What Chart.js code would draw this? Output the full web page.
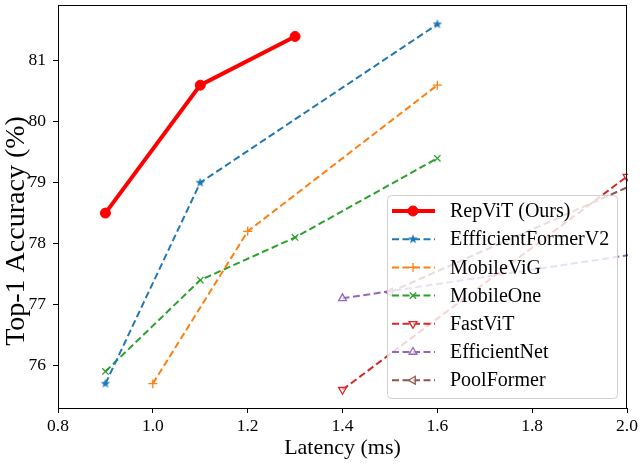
<!DOCTYPE html>
<html lang="en">
<head>
<meta charset="UTF-8">
<title>Latency vs Top-1 Accuracy</title>
<style>
    html, body { margin: 0; padding: 0; background: #fff; }
    #wrap { width: 640px; height: 464px; }
</style>
</head>
<body>
<div id="wrap"><canvas id="chart"></canvas></div>

<script src="https://cdn.jsdelivr.net/npm/chart.js@4.4.0/dist/chart.umd.min.js"></script>
<script>
// data (latency in ms, top-1 accuracy in %)
const repvitX = [0.9, 1.1, 1.3];
const repvitY = [78.5, 80.6, 81.4];
const effFormerX = [0.9, 1.1, 1.6];
const effFormerY = [75.7, 79.0, 81.6];
const mobileVigX = [1.0, 1.2, 1.6];
const mobileVigY = [75.7, 78.2, 80.6];
const mobileOneX = [0.9, 1.1, 1.3, 1.6];
const mobileOneY = [75.9, 77.4, 78.1, 79.4];
const fastVitX = [1.4, 2.0];
const fastVitY = [75.6, 79.1];
const effNetX = [1.4, 3.1];
const effNetY = [77.1, 79.1];
const poolFormerX = [1.5, 2.4];
const poolFormerY = [77.2, 80.3];

const xTicks = [0.8, 1.0, 1.2, 1.4, 1.6, 1.8, 2.0];
const yTicks = [76, 77, 78, 79, 80, 81];

const FONT = "'Liberation Serif', 'DejaVu Serif', serif";

function pts(xs, ys) {
    return xs.map((x, i) => ({ x: x, y: ys[i] }));
}

// filled five point star, like matplotlib's '*' marker
function starMarker(color, r) {
    const s = Math.ceil(r * 2 + 2);
    const c = document.createElement('canvas');
    c.width = s;
    c.height = s;
    const g = c.getContext('2d');
    g.fillStyle = color;
    g.beginPath();
    for (let i = 0; i < 10; i++) {
        const rad = i % 2 === 0 ? r : r * 0.42;
        const a = -Math.PI / 2 + i * Math.PI / 5;
        const px = s / 2 + rad * Math.cos(a);
        const py = s / 2 + rad * Math.sin(a);
        if (i === 0) g.moveTo(px, py); else g.lineTo(px, py);
    }
    g.closePath();
    g.fill();
    return c;
}

function dashed(label, xs, ys, color, style, rot, hollow) {
    return {
        label: label,
        data: pts(xs, ys),
        borderColor: color,
        backgroundColor: hollow ? '#fff' : color,
        borderWidth: 2,
        borderDash: [7, 3.5],
        pointStyle: style,
        pointRotation: rot || 0,
        pointRadius: 4.5,
        pointBorderWidth: 1.3,
        pointBorderColor: color,
        pointBackgroundColor: hollow ? 'rgba(255,255,255,0.6)' : color,
        tension: 0,
        clip: 1
    };
}

const datasets = [
    {
        label: 'RepViT (Ours)',
        data: pts(repvitX, repvitY),
        borderColor: '#ff0000',
        backgroundColor: '#ff0000',
        borderWidth: 4,
        pointStyle: 'circle',
        pointRadius: 5,
        pointBorderWidth: 1,
        pointBorderColor: '#ff0000',
        pointBackgroundColor: '#ff0000',
        tension: 0,
        clip: 1
    },
    dashed('EffficientFormerV2', effFormerX, effFormerY, '#1f77b4', starMarker('#1f77b4', 5), 0, false),
    dashed('MobileViG', mobileVigX, mobileVigY, '#ff7f0e', 'cross', 0, false),
    dashed('MobileOne', mobileOneX, mobileOneY, '#2ca02c', 'crossRot', 0, false),
    dashed('FastViT', fastVitX, fastVitY, '#d62728', 'triangle', 180, true),
    dashed('EfficientNet', effNetX, effNetY, '#9467bd', 'triangle', 0, true),
    dashed('PoolFormer', poolFormerX, poolFormerY, '#8c564b', 'triangle', 270, true)
];

// box around the plot, y label and a matplotlib-like legend in the lower right
const framePlugin = {
    id: 'frame',
    afterDraw(chart) {
        const ctx = chart.ctx;
        const a = chart.chartArea;
        ctx.save();
        ctx.strokeStyle = '#000';
        ctx.lineWidth = 1;
        ctx.strokeRect(a.left + 0.5, a.top - 0.5, a.right - a.left - 1, a.bottom - a.top + 1);

        // y axis label
        ctx.save();
        ctx.translate(17, 231);
        ctx.rotate(-Math.PI / 2);
        ctx.font = '28px ' + FONT;
        ctx.fillStyle = '#000';
        ctx.textAlign = 'center';
        ctx.textBaseline = 'middle';
        ctx.fillText('Top-1 Accuracy (%)', 0, 0);
        ctx.restore();

        // legend
        const w = 230, h = 203;
        const bx = a.right - 10 - w, by = a.bottom - 10 - h;
        ctx.fillStyle = 'rgba(255,255,255,0.8)';
        ctx.strokeStyle = '#d0d0d0';
        ctx.beginPath();
        ctx.roundRect(bx + 0.5, by + 0.5, w, h, 4);
        ctx.fill();
        ctx.stroke();

        ctx.font = '20px ' + FONT;
        ctx.textBaseline = 'middle';
        chart.data.datasets.forEach((ds, i) => {
            const y = by + 16 + i * 28.2;
            ctx.strokeStyle = ds.borderColor;
            ctx.lineWidth = ds.borderWidth;
            ctx.setLineDash(ds.borderDash || []);
            ctx.beginPath();
            ctx.moveTo(bx + 5, y);
            ctx.lineTo(bx + 48, y);
            ctx.stroke();
            ctx.setLineDash([]);
            ctx.fillStyle = ds.pointBackgroundColor;
            ctx.strokeStyle = ds.pointBorderColor;
            ctx.lineWidth = ds.pointBorderWidth;
            Chart.helpers.drawPoint(ctx, {
                pointStyle: ds.pointStyle,
                radius: ds.pointRadius,
                rotation: ds.pointRotation || 0,
                borderWidth: ds.pointBorderWidth
            }, bx + 26, y);
            ctx.fillStyle = '#000';
            ctx.fillText(ds.label, bx + 63, y + 1);
        });
        ctx.restore();
    }
};

new Chart(document.getElementById('chart'), {
    type: 'line',
    data: { datasets: datasets },
    options: {
        responsive: true,
        maintainAspectRatio: false,
        animation: false,
        layout: { padding: { top: 2, right: 13, left: 0, bottom: 0 } },
        plugins: {
            legend: { display: false },
            tooltip: { enabled: false }
        },
        scales: {
            x: {
                type: 'linear',
                min: 0.8,
                max: 2.0,
                afterBuildTicks: s => { s.ticks = xTicks.map(v => ({ value: v })); },
                afterFit: s => { s.height = 56; s.paddingLeft = 0; s.paddingRight = 0; },
                ticks: {
                    color: '#000',
                    padding: 3,
                    font: { family: FONT, size: 17.5 },
                    callback: v => Number(v).toFixed(1)
                },
                grid: { drawOnChartArea: false, tickLength: 5, tickColor: '#000' },
                border: { color: '#000', width: 1 },
                title: {
                    display: true,
                    text: 'Latency (ms)',
                    color: '#000',
                    font: { family: FONT, size: 22 },
                    padding: { top: 0, bottom: 3 }
                }
            },
            y: {
                type: 'linear',
                min: 75.3,
                max: 81.9,
                afterBuildTicks: s => { s.ticks = yTicks.map(v => ({ value: v })); },
                afterFit: s => { s.width = 58; s.paddingTop = 0; s.paddingBottom = 0; },
                ticks: {
                    color: '#000',
                    padding: 7,
                    font: { family: FONT, size: 17.5 },
                    callback: v => String(v)
                },
                grid: { drawOnChartArea: false, tickLength: 5, tickColor: '#000' },
                border: { color: '#000', width: 1 }
            }
        }
    },
    plugins: [framePlugin]
});
</script>
</body>
</html>
